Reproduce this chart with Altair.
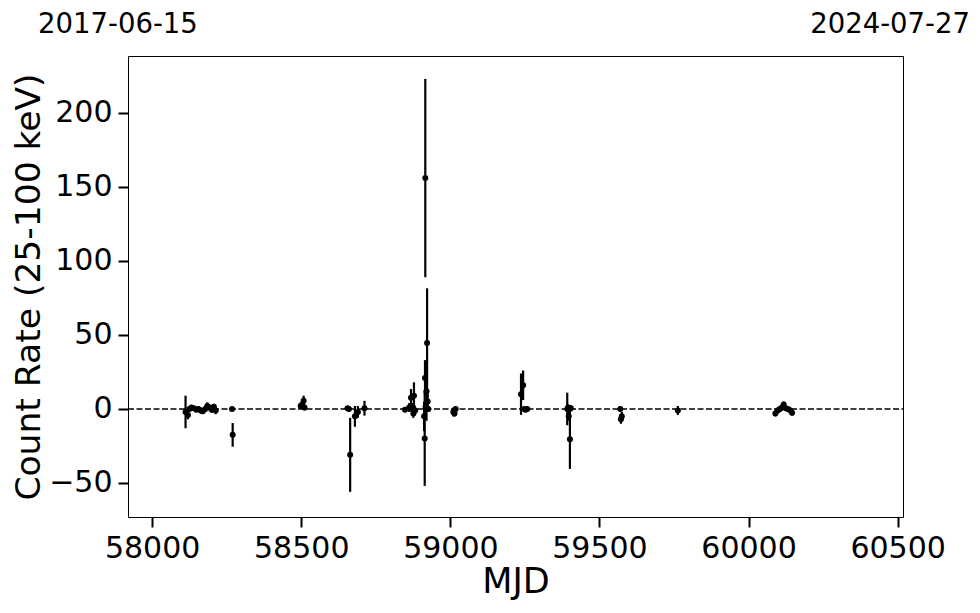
import altair as alt
import pandas as pd

mjd = [58112, 58120, 58125, 58132, 58140, 58148, 58155, 58163, 58170, 58178, 58185, 58192, 58200, 58207, 58213,
       58268, 58270,
       58498, 58503, 58508, 58511,
       58655, 58660, 58664, 58680, 58690, 58712,
       58848, 58862, 58868, 58872, 58875, 58876, 58878, 58882,
       58912, 58914, 58915, 58916, 58917, 58920, 58922, 58924, 58926,
       59010, 59014, 59018,
       59237, 59244, 59248, 59252, 59258,
       59392, 59395, 59397, 59399, 59401, 59404,
       59570, 59572, 59575,
       59763,
       60090, 60098, 60105, 60112, 60118, 60125, 60132, 60140, 60146]
rate = [-2, -4, 0, 1, 0.5, -0.5, 0, -1, -1.5, 0, 2, 1, -0.5, 1.5, -1,
        0, -17.5,
        2, 3, 5.5, 1,
        0.5, 0, -31, -5, -2, 0.5,
        -0.5, 1, 7.5, 0, 1, -3, 9, -1,
        -5, -20, 21, 156, 1.5, 12, 44.5, 5, 0,
        -2, -3, 0,
        10, 16, 0, -0.5, 0,
        0, 1, -5, 0, -20.5, 0.5,
        0, -7, -5,
        -1,
        -3, -1, 0, 1, 3, 0.5, 0, -1, -2.5]
err = [11, 3, 2, 1.5, 1.5, 1.5, 2, 2, 1.5, 2, 2.5, 2, 2, 2, 2.5,
       1, 8,
       2, 2.5, 3.5, 2,
       1.5, 1.5, 25, 7, 4, 5,
       1.5, 3, 6, 2, 3, 3, 9, 2,
       10, 32, 12, 67, 4, 20, 37, 6, 2,
       3, 2, 1.5,
       14, 10, 1.5, 1.5, 1.5,
       11, 2, 3, 2, 20, 2,
       2, 3, 3,
       3,
       2, 2, 1.5, 2, 2, 1.5, 1.5, 2, 2]

x_ticks = [58000, 58500, 59000, 59500, 60000, 60500]
y_ticks = [-50, 0, 50, 100, 150, 200]
date_left = "2017-06-15"
date_right = "2024-07-27"

df = pd.DataFrame({"mjd": mjd, "rate": rate, "err": err})
df["lo"] = df["rate"] - df["err"]
df["hi"] = df["rate"] + df["err"]

W, H = 775, 461
FONT = "DejaVu Sans"

xscale = alt.Scale(domain=[57919, 60518], nice=False, zero=False)
yscale = alt.Scale(domain=[-73, 238.5], nice=False, zero=False)

xaxis = alt.Axis(values=x_ticks, title="MJD", grid=False, domain=False,
                 tickSize=10, tickWidth=2, tickColor="black",
                 labelFont=FONT, labelFontSize=30, labelColor="black", labelPadding=6,
                 titleFont=FONT, titleFontSize=35, titleFontWeight="normal", titleColor="black",
                 titleY=47, titleBaseline="top", format="d")
yaxis = alt.Axis(values=y_ticks, title="Count Rate (25-100 keV)", grid=False, domain=False,
                 tickSize=10, tickWidth=2, tickColor="black",
                 labelFont=FONT, labelFontSize=30, labelColor="black", labelPadding=6,
                 titleFont=FONT, titleFontSize=34.5, titleFontWeight="normal", titleColor="black",
                 titleX=-82, titleY=H / 2, format="d")

base = alt.Chart(df)

bars = base.mark_rule(color="black", strokeWidth=2.2).encode(
    x=alt.X("mjd:Q", scale=xscale, axis=xaxis),
    y=alt.Y("lo:Q", scale=yscale, axis=yaxis),
    y2="hi:Q",
)
pts = base.mark_circle(color="black", opacity=1, size=36).encode(
    x=alt.X("mjd:Q", scale=xscale),
    y=alt.Y("rate:Q", scale=yscale),
)
zero = alt.Chart(pd.DataFrame({"z": [0]})).mark_rule(
    color="black", strokeWidth=1.5, strokeDash=[6, 2.5]
).encode(y=alt.Y("z:Q", scale=yscale), x=alt.value(0), x2=alt.value(W))

tl = alt.Chart(pd.DataFrame({"t": [date_left]})).mark_text(
    font=FONT, fontSize=27.5, color="black", align="left", baseline="alphabetic"
).encode(text="t:N", x=alt.value(-90), y=alt.value(-23))
tr = alt.Chart(pd.DataFrame({"t": [date_right]})).mark_text(
    font=FONT, fontSize=27.5, color="black", align="right", baseline="alphabetic"
).encode(text="t:N", x=alt.value(842), y=alt.value(-23))

chart = alt.layer(zero, bars, pts, tl, tr).properties(
    width=W, height=H,
    autosize=alt.AutoSizeParams(type="none"),
    padding={"left": 120, "top": 48, "right": 69, "bottom": 88},
).configure_view(stroke="black", strokeWidth=1)

chart.save("out.html", embed_options={"renderer": "svg", "actions": False})
